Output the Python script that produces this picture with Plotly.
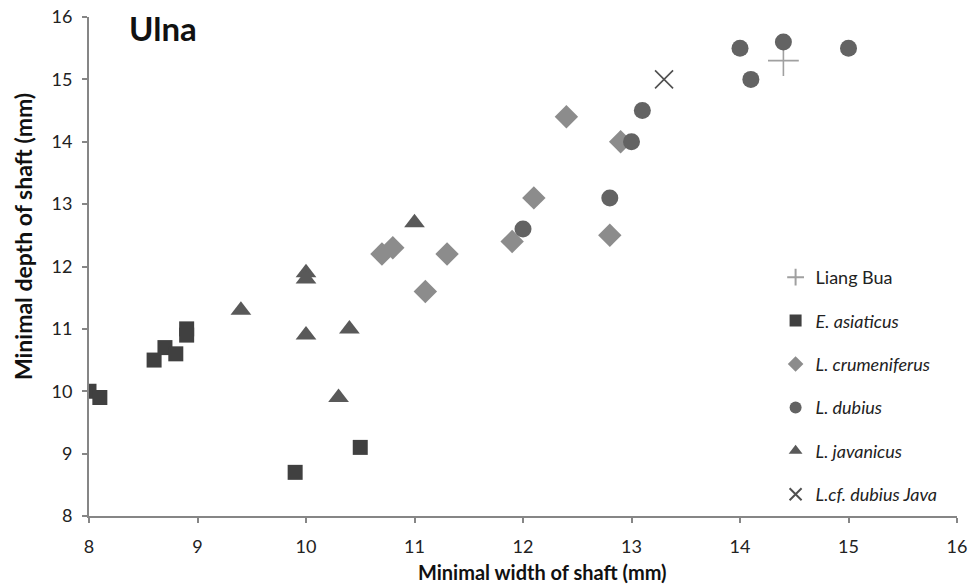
import plotly.graph_objects as go

# Data
lb_x = [14.4]
lb_y = [15.3]
ea_x = [8.0, 8.1, 8.6, 8.7, 8.8, 8.9, 8.9, 9.9, 10.5]
ea_y = [10.0, 9.9, 10.5, 10.7, 10.6, 10.9, 11.0, 8.7, 9.1]
lc_x = [10.7, 10.8, 11.1, 11.3, 11.9, 12.1, 12.4, 12.8, 12.9]
lc_y = [12.2, 12.3, 11.6, 12.2, 12.4, 13.1, 14.4, 12.5, 14.0]
ld_x = [12.0, 12.8, 13.0, 13.1, 14.0, 14.1, 14.4, 15.0]
ld_y = [12.6, 13.1, 14.0, 14.5, 15.5, 15.0, 15.6, 15.5]
lj_x = [9.4, 10.0, 10.0, 10.0, 10.4, 10.3, 11.0]
lj_y = [11.3, 11.9, 11.8, 10.9, 11.0, 9.9, 12.7]
lcf_x = [13.3]
lcf_y = [15.0]

font = "Lato"

fig = go.Figure()
fig.add_trace(go.Scatter(x=lb_x, y=lb_y, mode="markers", name="Liang Bua", legendgroup="a",
                         marker=dict(symbol="cross-thin", size=22, line=dict(color="#a0a0a0", width=1.6), color="#a0a0a0")))
fig.add_trace(go.Scatter(x=ea_x, y=ea_y, mode="markers", name="<i>E. asiaticus</i>", legendgroup="b",
                         marker=dict(symbol="square", size=15, color="#404040")))
fig.add_trace(go.Scatter(x=lc_x, y=lc_y, mode="markers", name="<i>L. crumeniferus</i>", legendgroup="c",
                         marker=dict(symbol="diamond", size=18, color="#8c8c8c")))
fig.add_trace(go.Scatter(x=ld_x, y=ld_y, mode="markers", name="<i>L. dubius</i>", legendgroup="d",
                         marker=dict(symbol="circle", size=17, color="#636363")))
fig.add_trace(go.Scatter(x=lj_x, y=lj_y, mode="markers", name="<i>L. javanicus</i>", legendgroup="e",
                         marker=dict(symbol="triangle-up", size=18, color="#595959")))
fig.add_trace(go.Scatter(x=lcf_x, y=lcf_y, mode="markers", name="<i>L.cf. dubius Java</i>", legendgroup="f",
                         marker=dict(symbol="x-thin", size=18, line=dict(color="#505050", width=1.6), color="#505050")))

axis_common = dict(showgrid=False, zeroline=False, showline=True, linecolor="#868686", linewidth=2,
                   ticks="outside", ticklen=5, tickcolor="#868686", tickwidth=2, automargin=False,
                   tickfont=dict(family=font, size=18, color="#222"))

fig.update_layout(
    width=971, height=586,
    margin=dict(l=89, r=14, t=17, b=70),
    paper_bgcolor="white", plot_bgcolor="white",
    font=dict(family=font, color="#222"),
    xaxis=dict(range=[8, 16], dtick=1, ticklabelstandoff=8, **axis_common),
    yaxis=dict(range=[8, 16], dtick=1, ticklabelstandoff=6, **axis_common),
    legend=dict(x=0.791, y=0.515, xanchor="left", yanchor="top", tracegroupgap=17,
                font=dict(family=font, size=18, color="#222"), itemsizing="constant",
                bgcolor="rgba(0,0,0,0)"),
    showlegend=True,
    annotations=[
        dict(text="<b>Ulna</b>", x=0.044, y=1.022, xref="paper", yref="paper",
             xanchor="left", yanchor="top", showarrow=False,
             font=dict(family=font, size=33, color="#111")),
        dict(text="<b>Minimal width of shaft (mm)</b>", x=0.522, y=-0.112, xref="paper", yref="paper",
             xanchor="center", yanchor="middle", showarrow=False,
             font=dict(family=font, size=20, color="#111")),
        dict(text="<b>Minimal depth of shaft (mm)</b>", x=-0.076, y=0.559, xref="paper", yref="paper",
             xanchor="center", yanchor="middle", showarrow=False, textangle=-90,
             font=dict(family=font, size=23, color="#111")),
    ],
)

fig.write_html("out.html", config={"displayModeBar": False},
               post_script="document.body.style.margin='0';document.body.style.padding='0';")
